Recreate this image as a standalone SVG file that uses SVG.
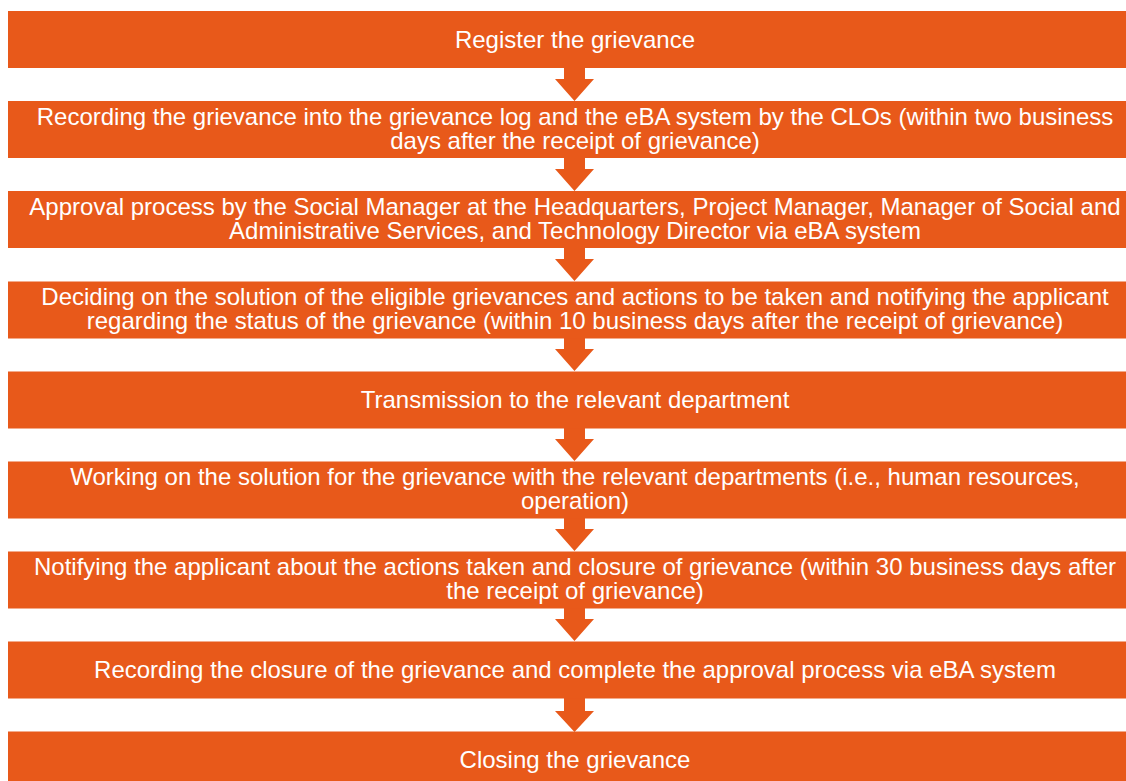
<svg xmlns="http://www.w3.org/2000/svg" width="1126" height="781" viewBox="0 0 1126 781">
<style>
.box{fill:#E8591A}
.t{font-family:"Liberation Sans",Arial,sans-serif;font-size:24px;fill:#FFFFFF;text-anchor:middle}
.arr{fill:#E8591A}
</style>
<rect width="1126" height="781" fill="#FFFFFF"/>
<g id="connectors">
<path class="arr" d="M564,68 H585 V79 H594 L574.5,101 L555,79 H564 Z"/>
<path class="arr" d="M564,158 H585 V169 H594 L574.5,191 L555,169 H564 Z"/>
<path class="arr" d="M564,248 H585 V259 H594 L574.5,281 L555,259 H564 Z"/>
<path class="arr" d="M564,338 H585 V349 H594 L574.5,371 L555,349 H564 Z"/>
<path class="arr" d="M564,428 H585 V439 H594 L574.5,461 L555,439 H564 Z"/>
<path class="arr" d="M564,518 H585 V529 H594 L574.5,551 L555,529 H564 Z"/>
<path class="arr" d="M564,608 H585 V619 H594 L574.5,641 L555,619 H564 Z"/>
<path class="arr" d="M564,698 H585 V711 H594 L574.5,732 L555,711 H564 Z"/>
</g>
<g id="n1"><rect class="box" x="8" y="11" width="1134" height="57"/><text class="t" x="575" y="48">Register the grievance</text></g>
<g id="n2"><rect class="box" x="8" y="101" width="1134" height="57"/><text class="t" x="575" y="124.5">Recording the grievance into the grievance log and the eBA system by the CLOs (within two business</text><text class="t" x="575" y="148.5">days after the receipt of grievance)</text></g>
<g id="n3"><rect class="box" x="8" y="191" width="1134" height="57"/><text class="t" x="575" y="214.5">Approval process by the Social Manager at the Headquarters, Project Manager, Manager of Social and</text><text class="t" x="575" y="238.5">Administrative Services, and Technology Director via eBA system</text></g>
<g id="n4"><rect class="box" x="8" y="281.5" width="1134" height="57"/><text class="t" x="575" y="304.5">Deciding on the solution of the eligible grievances and actions to be taken and notifying the applicant</text><text class="t" x="575" y="328.5">regarding the status of the grievance (within 10 business days after the receipt of grievance)</text></g>
<g id="n5"><rect class="box" x="8" y="371.5" width="1134" height="57"/><text class="t" x="575" y="408">Transmission to the relevant department</text></g>
<g id="n6"><rect class="box" x="8" y="461.5" width="1134" height="57"/><text class="t" x="575" y="484.5">Working on the solution for the grievance with the relevant departments (i.e., human resources,</text><text class="t" x="575" y="508.5">operation)</text></g>
<g id="n7"><rect class="box" x="8" y="551.5" width="1134" height="57"/><text class="t" x="575" y="574.5">Notifying the applicant about the actions taken and closure of grievance (within 30 business days after</text><text class="t" x="575" y="598.5">the receipt of grievance)</text></g>
<g id="n8"><rect class="box" x="8" y="641.5" width="1134" height="57"/><text class="t" x="575" y="678">Recording the closure of the grievance and complete the approval process via eBA system</text></g>
<g id="n9"><rect class="box" x="8" y="731.5" width="1134" height="57"/><text class="t" x="575" y="768">Closing the grievance</text></g>
</svg>
